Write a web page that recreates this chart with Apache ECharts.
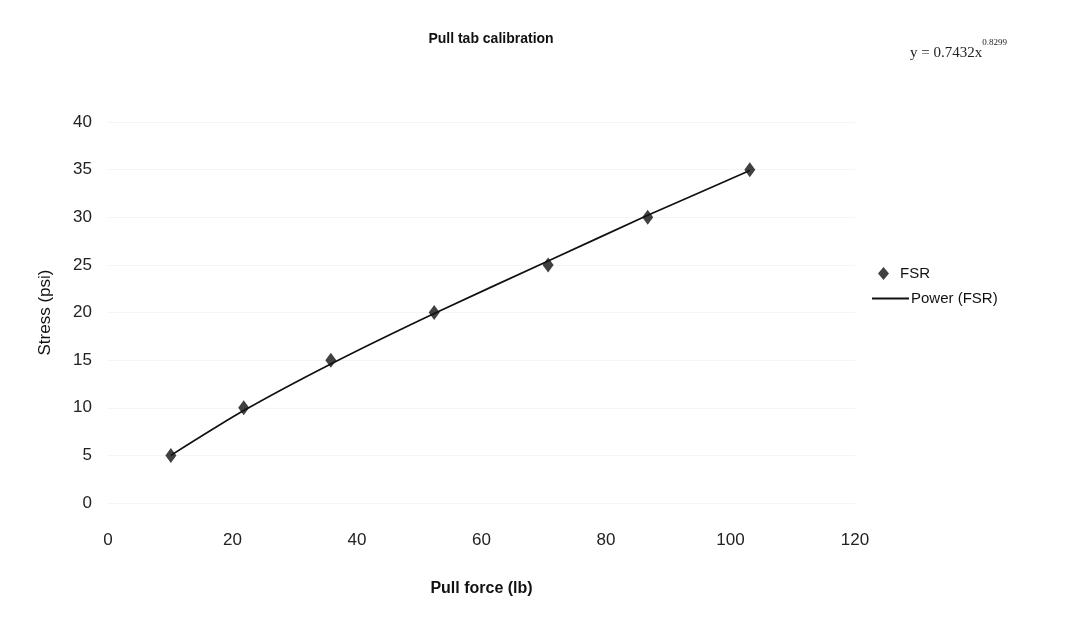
<!DOCTYPE html>
<html>
<head>
<meta charset="utf-8">
<script src="https://cdn.jsdelivr.net/npm/echarts@6/dist/echarts.min.js"></script>
<style>
  html, body { margin: 0; padding: 0; background: #fff; }
  #chart { width: 1078px; height: 631px; }
</style>
</head>
<body>
<div id="chart"></div>
<script>
// measured points (pull force lb, stress psi)
var pullForce = [10.1, 21.8, 35.8, 52.4, 70.7, 86.7, 103.1]
var stress = [5.0, 10.0, 15.0, 20.0, 25.0, 30.0, 35.0]
// power trendline at the same x
var trendStress = [5.0, 9.7, 14.6, 19.9, 25.4, 30.2, 34.9]
var xTicks = [0, 20, 40, 60, 80, 100, 120]
var yTicks = [0, 5, 10, 15, 20, 25, 30, 35, 40]

var sans = '"Liberation Sans Narrow", "Arial Narrow", "Liberation Sans", Arial, sans-serif'
var serif = '"Liberation Serif", "Times New Roman", serif'

var myChart = echarts.init(document.getElementById('chart'))

var fsrData = pullForce.map(function (x, i) { return [x, stress[i]] })
var trendData = pullForce.map(function (x, i) { return [x, trendStress[i]] })

var option = {
  backgroundColor: '#fff',
  animation: false,
  title: [{
    text: 'Pull tab calibration',
    left: 486,
    top: 27,
    textAlign: 'center',
    textStyle: { fontFamily: sans, fontSize: 14, fontWeight: 'bold', color: '#111' }
  }, {
    text: '{b|y = 0.7432x}{s|0.8299}',
    left: 905,
    top: 33,
    textStyle: {
      fontWeight: 'normal',
      rich: {
        b: { fontFamily: serif, fontSize: 15, fontWeight: 'normal', color: '#222', verticalAlign: 'bottom', padding: [8, 0, 0, 0] },
        s: { fontFamily: serif, fontSize: 9, fontWeight: 'normal', color: '#222', verticalAlign: 'top' }
      }
    }
  }],
  legend: [{
    data: [{ name: 'FSR', icon: 'diamond' }],
    left: 873,
    top: 261,
    itemWidth: 11,
    itemHeight: 13,
    textStyle: { fontFamily: sans, fontSize: 15, color: '#111', padding: [0, 0, 0, 6] }
  }, {
    data: [{ name: 'Power (FSR)', icon: 'path://M0,0 L40,0 L40,2 L0,2 Z' }],
    left: 867,
    top: 286,
    itemWidth: 37,
    itemHeight: 2,
    itemGap: 0,
    textStyle: { fontFamily: sans, fontSize: 15, color: '#111', padding: [0, 0, 0, -3] }
  }],
  grid: { left: 108, right: 223, top: 122, bottom: 128, containLabel: false },
  xAxis: {
    type: 'value',
    min: xTicks[0],
    max: xTicks[xTicks.length - 1],
    interval: 20,
    name: 'Pull force (lb)',
    nameLocation: 'middle',
    nameGap: 78,
    nameTextStyle: { fontFamily: sans, fontSize: 16, fontWeight: 'bold', color: '#111' },
    axisLine: { show: false },
    axisTick: { show: false },
    splitLine: { show: false },
    axisLabel: { margin: 29, fontFamily: sans, fontSize: 17, color: '#222' }
  },
  yAxis: {
    type: 'value',
    min: yTicks[0],
    max: yTicks[yTicks.length - 1],
    interval: 5,
    name: 'Stress (psi)',
    nameLocation: 'middle',
    nameGap: 54,
    nameTextStyle: { fontFamily: '"Liberation Sans", Arial, sans-serif', fontSize: 17, color: '#111' },
    axisLine: { show: false },
    axisTick: { show: false },
    splitLine: { show: true, lineStyle: { color: '#f5f5f5', width: 1 } },
    axisLabel: { margin: 16, fontFamily: sans, fontSize: 17, color: '#222' }
  },
  series: [{
    name: 'Power (FSR)',
    type: 'line',
    data: trendData,
    smooth: 0.25,
    showSymbol: false,
    lineStyle: { color: '#111', width: 1.7 },
    itemStyle: { color: '#111' },
    z: 2
  }, {
    name: 'FSR',
    type: 'scatter',
    data: fsrData,
    symbol: 'diamond',
    symbolSize: [11, 15],
    itemStyle: { color: '#111' },
    z: 3
  }]
}
myChart.setOption(option)
</script>
</body>
</html>
